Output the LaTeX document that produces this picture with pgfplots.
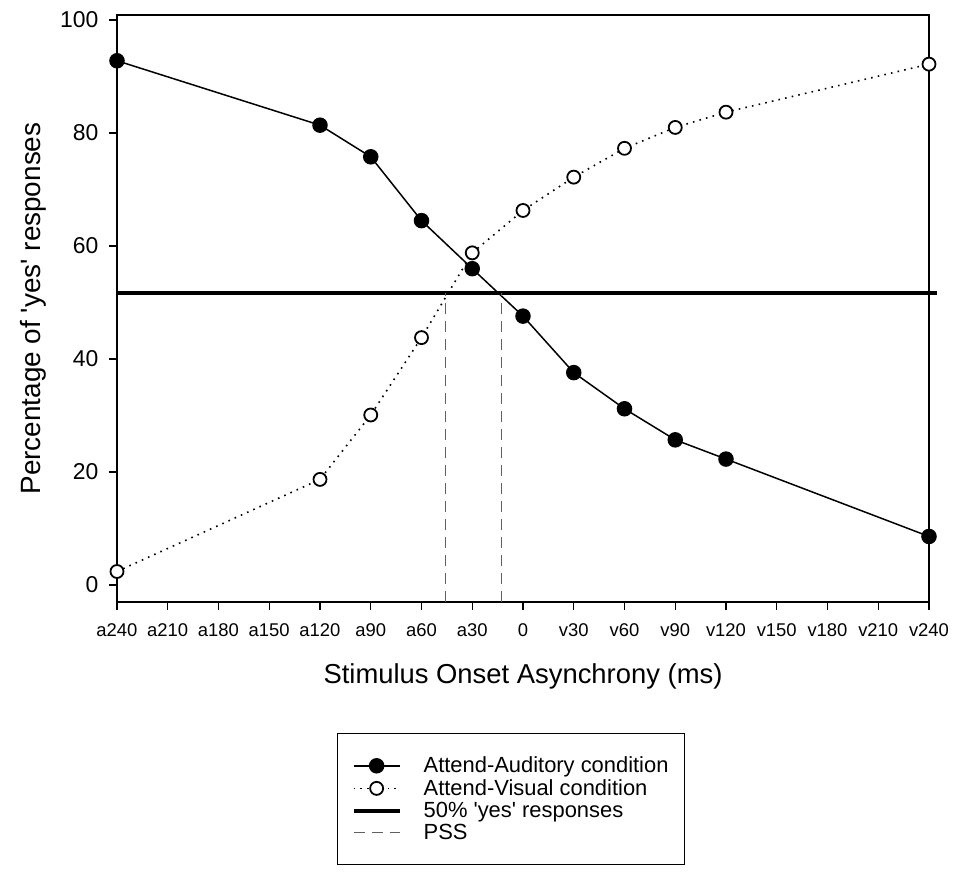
\documentclass[border=0pt]{standalone}
\usepackage{fontspec}
\setmainfont{Liberation Sans}
\usepackage{pgfplots}
\pgfplotsset{compat=1.18}
\usepackage{pgfplotstable}

\definecolor{pssgray}{HTML}{606060}
\newcommand{\q}{\textquotesingle}

% percentage of 'yes' responses per SOA (ms)
\pgfplotstableread{
soa  aud   vis
-240 92.8  2.4
-120 81.4  18.7
-90  75.8  30.1
-60  64.5  43.8
-30  56.0  58.8
0    47.6  66.3
30   37.6  72.2
60   31.2  77.3
90   25.7  81.0
120  22.3  83.7
240  8.6   92.2
}\soadata

\begin{document}
\begin{tikzpicture}
\begin{axis}[
    scale only axis,
    width=812bp, height=587bp,
    xmin=-240, xmax=240,
    ymin=-3, ymax=100.9,
    clip=false,
    axis line style={line width=1.6bp},
    xtick={-240,-210,...,240},
    xticklabels={a240,a210,a180,a150,a120,a90,a60,a30,0,v30,v60,v90,v120,v150,v180,v210,v240},
    ytick={0,20,...,100},
    tick align=outside,
    xtick pos=bottom, ytick pos=left,
    major tick length=8bp,
    tick style={line width=1.3bp, black},
    /pgf/number format/assume math mode=true,
    x tick label style={font=\fontsize{18.5}{22}\selectfont, yshift=-10bp},
    y tick label style={font=\fontsize{23}{26}\selectfont, xshift=-7bp},
    xlabel={Stimulus Onset Asynchrony (ms)},
    ylabel={Percentage of \q yes\q{} responses},
    x label style={at={(axis description cs:0.5,-0.138)}, anchor=base,
        font=\fontsize{27.5}{32}\selectfont},
    y label style={at={(axis description cs:-0.1034,0.5)}, anchor=center,
        rotate=0, font=\fontsize{28}{32}\selectfont},
    legend cell align=left,
    legend style={at={(axis description cs:0.271,-0.223)}, anchor=north west,
        draw=black, line width=1.2bp, inner xsep=14bp, inner ysep=21bp,
        font=\fontsize{22}{24}\selectfont,
        nodes={inner ysep=2.6bp}},
    legend image code/.code={%
        \path[draw=none,fill=none] (0bp,-1bp) rectangle (68bp,1bp);
        \draw[mark repeat=2,mark phase=2,#1]
            plot coordinates {(0bp,0bp) (23bp,0bp) (46bp,0bp)};},
]
\addplot[black, line width=1.5bp, mark=*, mark size=7bp,
    mark options={solid}] table[x=soa, y=aud] {\soadata};
\addlegendentry{Attend-Auditory condition}

\addplot[black, line width=1.6bp, dash pattern=on 1.6bp off 5.2bp,
    mark=*, mark size=6.5bp,
    mark options={solid, fill=white, line width=1.8bp}] table[x=soa, y=vis] {\soadata};
\addlegendentry{Attend-Visual condition}

\addplot[black, line width=4bp] coordinates {(-240,51.7) (245,51.7)};
\addlegendentry{50\% \q yes\q{} responses}

\addplot[pssgray, line width=1bp, dash pattern=on 11bp off 7bp]
    coordinates {(-45.7,-3) (-45.7,51.7)};
\addlegendentry{PSS\rule[-18bp]{0pt}{0pt}}
\addplot[pssgray, line width=1bp, dash pattern=on 11bp off 7bp, forget plot]
    coordinates {(-12.6,-3) (-12.6,51.7)};

\coordinate (bl) at (rel axis cs:0,0);
\end{axis}
\pgfresetboundingbox
\path (bl) ++(-117bp,-270bp) rectangle ++(954bp,872bp);
\end{tikzpicture}
\end{document}
